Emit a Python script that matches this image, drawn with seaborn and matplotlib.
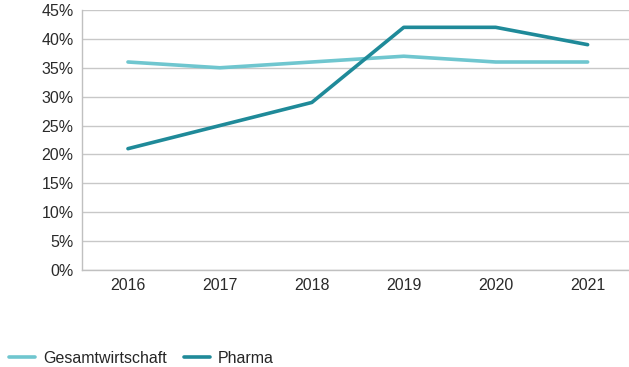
import numpy as np
import pandas as pd
import matplotlib
matplotlib.use("Agg")
import matplotlib.pyplot as plt
import seaborn as sns
from matplotlib.ticker import PercentFormatter

years = ["2016", "2017", "2018", "2019", "2020", "2021"]
gesamt = [36, 35, 36, 37, 36, 36]
pharma = [21, 25, 29, 42, 42, 39]

series_names = ["Gesamtwirtschaft", "Pharma"]
colors = ["#6fc6cf", "#1f8a99"]

df = pd.DataFrame({
    "Jahr": years * 2,
    "Wert": gesamt + pharma,
    "Reihe": [series_names[0]] * len(years) + [series_names[1]] * len(years),
})

sns.set_style("white")
plt.rcParams["font.family"] = ["Liberation Sans", "DejaVu Sans"]

fig = plt.figure(figsize=(6.29, 3.67), dpi=100)
ax = fig.add_axes([82 / 629, (367 - 270) / 367, (629 - 82) / 629, 260 / 367])

sns.lineplot(data=df, x="Jahr", y="Wert", hue="Reihe", palette=colors,
             linewidth=2.6, ax=ax, sort=False)

ax.set_xlim(-0.5, 5.45)
ax.set_ylim(0, 45)
ax.set_yticks(np.arange(0, 46, 5))
ax.yaxis.set_major_formatter(PercentFormatter(decimals=0))
ax.grid(axis="y", color="#c8c8c8", linewidth=1)
ax.set_axisbelow(True)
for s in ["top", "right"]:
    ax.spines[s].set_visible(False)
for s in ["left", "bottom"]:
    ax.spines[s].set_color("#c0c0c0")
    ax.spines[s].set_linewidth(1)
ax.tick_params(axis="both", length=0, labelsize=11.5, colors="#2a2a2a")
ax.tick_params(axis="y", pad=6)
ax.tick_params(axis="x", pad=6)
ax.set_xlabel("")
ax.set_ylabel("")

ax.legend(loc="lower left", bbox_to_anchor=(-79 / 547, -97 / 260 - 0.02),
          frameon=False, ncol=2, fontsize=11.5, handlelength=1.6,
          columnspacing=1.1, handletextpad=0.5, borderaxespad=0)

fig.savefig("out.png", dpi=100)
